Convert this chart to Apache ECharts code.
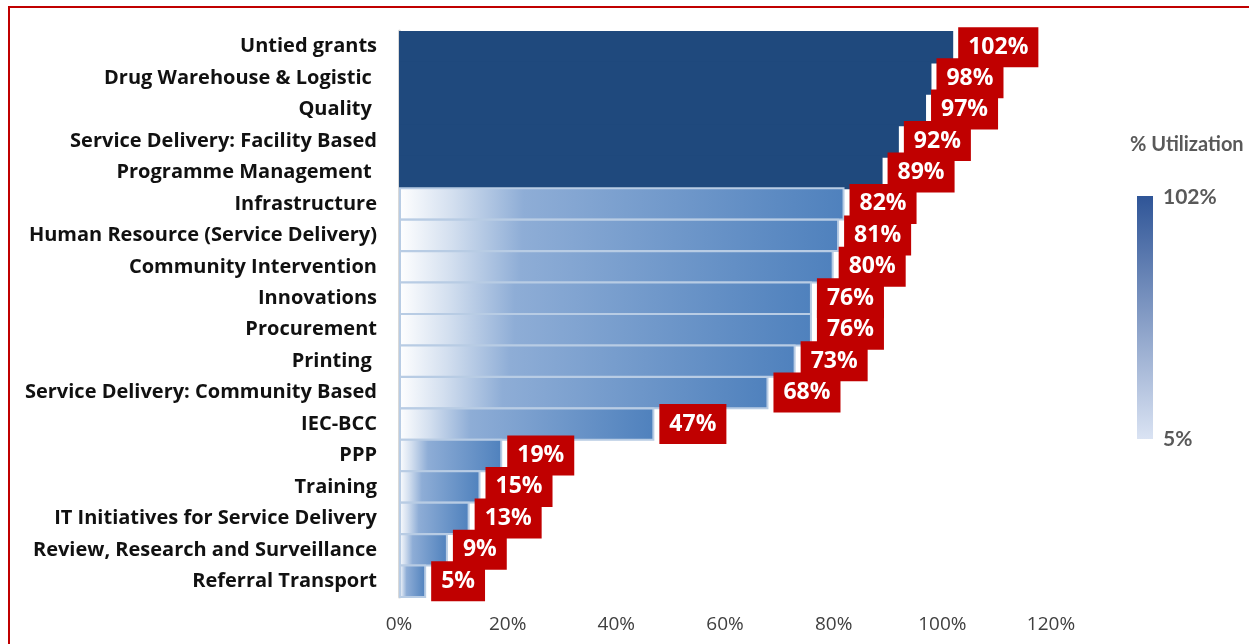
<!DOCTYPE html>
<html>
<head>
<meta charset="utf-8">
<script src="https://cdn.jsdelivr.net/npm/echarts@6/dist/echarts.min.js"></script>
<style>
html,body{margin:0;padding:0;background:#fff;}
#chart{width:1249px;height:644px;}
</style>
</head>
<body>
<div id="chart"></div>
<script>
const categories = [
  'Untied grants',
  'Drug Warehouse & Logistic ',
  'Quality ',
  'Service Delivery: Facility Based',
  'Programme Management ',
  'Infrastructure',
  'Human Resource (Service Delivery)',
  'Community Intervention',
  'Innovations',
  'Procurement',
  'Printing ',
  'Service Delivery: Community Based',
  'IEC-BCC',
  'PPP',
  'Training',
  'IT Initiatives for Service Delivery',
  'Review, Research and Surveillance',
  'Referral Transport'
];
const utilization = [102, 98, 97, 92, 89, 82, 81, 80, 76, 76, 73, 68, 47, 19, 15, 13, 9, 5];
const xTicks = [0, 20, 40, 60, 80, 100, 120];
const legendTitle = '% Utilization';
const legendMax = '102%';
const legendMin = '5%';
const highThreshold = 85;

const chart = echarts.init(document.getElementById('chart'), null, {renderer: 'canvas'});

const lowGradient = new echarts.graphic.LinearGradient(0, 0, 1, 0, [
  {offset: 0, color: '#FFFFFF'},
  {offset: 0.12, color: '#D3DFEF'},
  {offset: 0.28, color: '#8EADD6'},
  {offset: 1, color: '#4F81BD'}
]);

const seriesData = utilization.map(v => {
  if (v >= highThreshold) {
    return {value: v, itemStyle: {color: '#1F497D', borderColor: '#1F497D', borderWidth: 0}};
  }
  return {value: v, itemStyle: {color: lowGradient, borderColor: '#B8CCE4', borderWidth: 2}};
});

const option = {
  animation: false,
  backgroundColor: '#fff',
  grid: {left: 399, right: 198, top: 31, bottom: 47, containLabel: false},
  xAxis: {
    type: 'value',
    min: xTicks[0],
    max: xTicks[xTicks.length - 1],
    interval: xTicks[1] - xTicks[0],
    axisLine: {show: false},
    axisTick: {show: false},
    splitLine: {show: false},
    axisLabel: {
      formatter: '{value}%',
      color: '#404040',
      fontFamily: 'Open Sans',
      fontSize: 19,
      margin: 18
    }
  },
  yAxis: {
    type: 'category',
    data: categories,
    inverse: true,
    splitLine: {show: false},
    axisLine: {show: true, lineStyle: {color: '#D9D9D9', width: 3}},
    axisTick: {show: false},
    axisLabel: {
      color: '#111',
      fontFamily: 'Open Sans',
      fontWeight: 'bold',
      fontSize: 20,
      margin: 22
    }
  },
  series: [{
    type: 'bar',
    data: seriesData,
    barWidth: '106%',
    label: {
      show: true,
      position: 'right',
      distance: 5,
      formatter: '{c}%',
      color: '#fff',
      fontFamily: 'Open Sans',
      fontWeight: 'bold',
      fontSize: 23,
      lineHeight: 24,
      backgroundColor: '#C00000',
      padding: [8, 10, 8, 10]
    }
  }],
  graphic: [
    {
      type: 'rect',
      shape: {x: 9, y: 7, width: 1300, height: 800},
      style: {fill: 'none', stroke: '#C00000', lineWidth: 2},
      silent: true
    },
    {
      type: 'text',
      left: 1130,
      top: 135,
      style: {text: legendTitle, fill: '#595959', font: 'bold 20px Lato'}
    },
    {
      type: 'rect',
      shape: {x: 1137, y: 196, width: 16, height: 243},
      style: {
        fill: new echarts.graphic.LinearGradient(0, 0, 0, 1, [
          {offset: 0, color: '#2F5597'},
          {offset: 1, color: '#DAE3F3'}
        ])
      }
    },
    {
      type: 'text',
      left: 1163,
      top: 187,
      style: {text: legendMax, fill: '#595959', font: 'bold 21px Lato'}
    },
    {
      type: 'text',
      left: 1163,
      top: 429,
      style: {text: legendMin, fill: '#595959', font: 'bold 21px Lato'}
    }
  ]
};
chart.setOption(option);
</script>
</body>
</html>
